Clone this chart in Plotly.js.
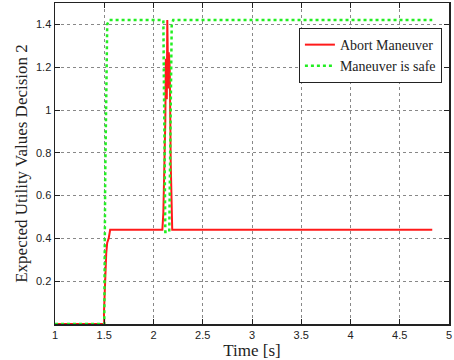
<!DOCTYPE html>
<html><head><meta charset="utf-8">
<script src="https://cdn.plot.ly/plotly-3.0.1.min.js"></script>
<style>body{margin:0;background:#fff}#c{width:454px;height:360px}</style>
</head><body><div id="c"></div>
<script>
const abortT = [1.0, 1.5, 1.497, 1.505, 1.512, 1.52, 1.53, 1.545, 1.56, 2.09, 2.10, 2.11, 2.12, 2.125, 2.135, 2.14, 2.15, 2.155, 2.165, 2.175, 2.185, 2.19, 4.83];
const abortV = [0.0, 0.0, 0.05, 0.15, 0.29, 0.33, 0.38, 0.40, 0.44, 0.44, 0.52, 0.72, 0.95, 1.24, 1.05, 1.42, 1.10, 1.27, 1.20, 0.75, 0.55, 0.44, 0.44];
const safeT = [1.0, 1.5, 1.51, 1.53, 1.55, 2.10, 2.12, 2.16, 2.185, 2.20, 4.83];
const safeV = [0.0, 0.0, 0.7, 1.40, 1.42, 1.42, 0.43, 0.43, 1.40, 1.42, 1.42];
const xTicks = [1, 1.5, 2, 2.5, 3, 3.5, 4, 4.5, 5];
const yTicks = [0.2, 0.4, 0.6, 0.8, 1, 1.2, 1.4];

const data = [
  {x: abortT, y: abortV, type: 'scatter', mode: 'lines', name: 'Abort Maneuver',
   line: {color: '#ff1a1a', width: 2}},
  {x: safeT, y: safeV, type: 'scatter', mode: 'lines', name: 'Maneuver is safe',
   line: {color: '#22ee22', width: 2.5, dash: 'dot'}}
];
const axisCommon = {
  showline: true, mirror: 'ticks', linecolor: '#222', linewidth: 1.5,
  ticks: 'inside', ticklen: 5, tickcolor: '#222',
  showgrid: true, gridcolor: '#888', griddash: 'dot', gridwidth: 1,
  zeroline: false,
  tickfont: {family: 'Liberation Sans, Arial, sans-serif', size: 11, color: '#222'}
};
const layout = {
  width: 454, height: 360,
  margin: {l: 55, r: 5, t: 3, b: 36, autoexpand: false},
  paper_bgcolor: '#fff', plot_bgcolor: '#fff',
  showlegend: true,
  legend: {x: 0.982, y: 0.922, xanchor: 'right', yanchor: 'top',
    bgcolor: '#fff', bordercolor: '#222', borderwidth: 1,
    font: {family: 'Liberation Serif, Times New Roman, serif', size: 14, color: '#222'},
    tracegroupgap: 0, itemwidth: 30},
  xaxis: Object.assign({}, axisCommon, {range: [1, 5], tickvals: xTicks,
    ticktext: xTicks.map(String),
    title: {text: 'Time [s]', standoff: 2,
      font: {family: 'Liberation Serif, Times New Roman, serif', size: 17, color: '#222'}}}),
  yaxis: Object.assign({}, axisCommon, {range: [0, 1.5], tickvals: yTicks,
    ticktext: yTicks.map(String),
    title: {text: 'Expected Utility Values Decision 2', standoff: 4,
      font: {family: 'Liberation Serif, Times New Roman, serif', size: 17, color: '#222'}}})
};
Plotly.newPlot('c', data, layout, {displayModeBar: false, staticPlot: true});
</script></body></html>
